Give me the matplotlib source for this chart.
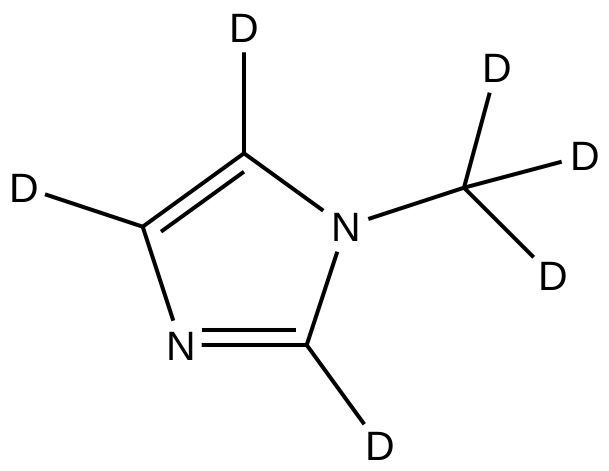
import matplotlib
matplotlib.use("Agg")
import matplotlib.pyplot as plt

plt.rcParams["font.family"] = ["Liberation Sans"]
plt.rcParams["text.hinting"] = "no_hinting"

W, H = 609, 471

# atom labels, position is centre x and baseline y in picture pixels
label_text = ["D", "D", "N", "N", "D", "D", "D", "D"]
label_x = [243.5, 23.5, 345, 180.5, 379, 496.5, 584.5, 552.5]
label_y = [42, 202, 241, 360, 460.5, 82, 170, 290.5]

# bonds as polylines so the corners join up
bond_xs = [
    [244, 244, 323.3],        # D - C5 - N1
    [45, 142.7, 244],         # D - C4 - C5
    [142.7, 173.3],           # C4 - N3
    [337.3, 306.7, 201.7],    # N1 - C2 - N3
    [306.7, 364.3],           # C2 - D
    [161, 244],               # inner C4=C5
    [201.7, 295.7],           # inner N3=C2
    [368.3, 464, 489.7],      # N1 - CH3 - D
    [561.7, 464, 533.7],      # D - CH3 - D
]
bond_ys = [
    [52.3, 153.3, 210.7],
    [194.3, 226.7, 153.3],
    [226.7, 320.7],
    [251.7, 345, 345],
    [345, 424.3],
    [231.7, 171.7],
    [330, 330],
    [219, 187.7, 92.7],
    [161.7, 187.7, 257.3],
]

fig = plt.figure(figsize=(W / 100, H / 100), dpi=100)
ax = fig.add_axes([0, 0, 1, 1])
ax.set_xlim(0, W)
ax.set_ylim(H, 0)
ax.axis("off")

for xs, ys in zip(bond_xs, bond_ys):
    ax.plot(xs, ys, color="black", lw=2.9, solid_capstyle="butt", solid_joinstyle="round")

for t, x, y in zip(label_text, label_x, label_y):
    ax.text(x, y, t, fontsize=29.5, ha="center", va="baseline", color="black")

fig.savefig("out.png", dpi=100)
